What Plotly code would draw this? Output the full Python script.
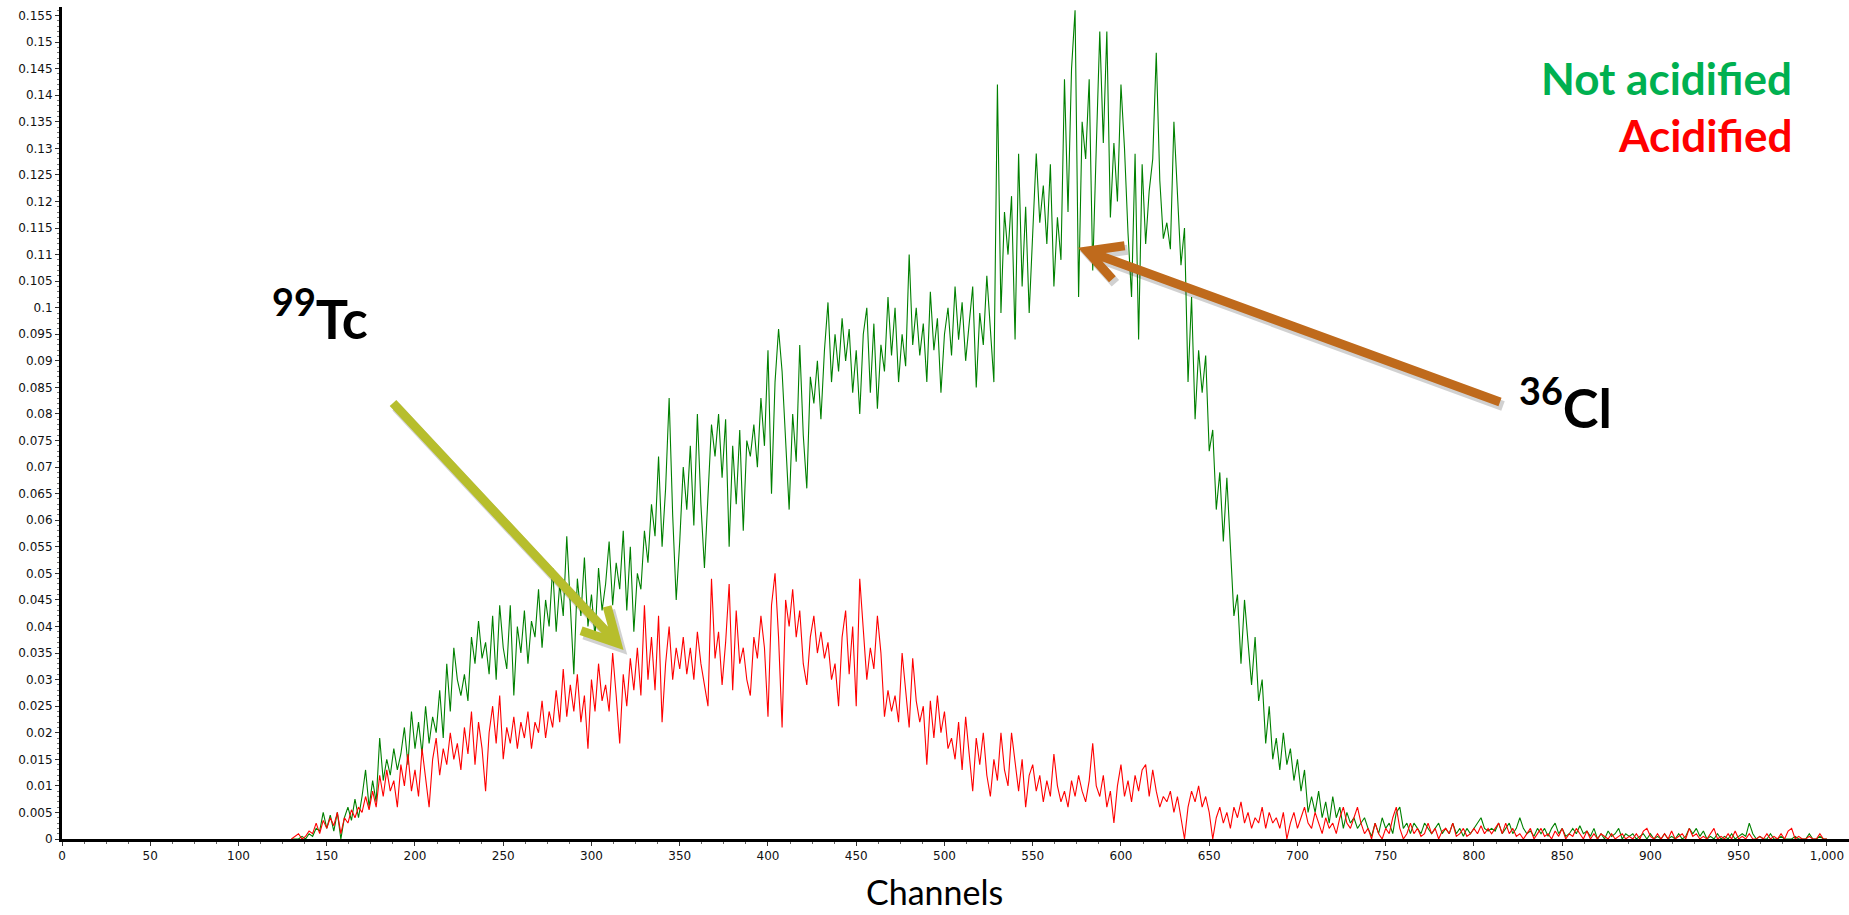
import plotly.graph_objects as go
import math

# ---------------- data (values in units of 0.001) ----------------
start_channel = 130
channel_step = 2

not_acidified_milli = [
    0, 0, 0, 0.5, 0, 1, 0.5, 2, 1.5, 5,
    2, 4.5, 1.5, 5, 0, 4, 6, 3.5, 7.5, 4,
    8, 13, 6, 11, 7, 19, 11, 15, 12, 17,
    13, 16, 21, 14, 24, 17, 22, 16, 25, 18,
    23, 20, 28, 19, 33, 24, 36, 30, 27, 31,
    26, 38, 33, 41, 34, 37, 31, 42, 30, 44,
    36, 32, 44, 27, 40, 35, 43, 33, 41, 38,
    47, 36, 45, 40, 51, 39, 48, 42, 57, 44,
    31, 49, 42, 53, 40, 46, 38, 51, 43, 48,
    56, 44, 52, 47, 58, 43, 55, 39, 50, 47,
    58, 52, 63, 57, 72, 55, 66, 83, 61, 45,
    56, 70, 62, 74, 59, 80, 63, 51, 66, 78,
    72, 80, 68, 79, 55, 74, 63, 77, 58, 75,
    72, 78, 70, 83, 74, 92, 65, 86, 96, 88,
    75, 62, 80, 71, 93, 76, 66, 87, 82, 90,
    79, 92, 101, 86, 95, 88, 98, 90, 96, 84,
    92, 80, 95, 100, 84, 97, 81, 93, 88, 102,
    91, 100, 86, 95, 89, 110, 93, 100, 91, 97,
    86, 103, 92, 98, 84, 95, 100, 91, 104, 94,
    101, 90, 97, 104, 85, 99, 93, 106, 96, 86,
    142, 99, 118, 110, 121, 94, 129, 104, 119, 99,
    114, 129, 116, 123, 112, 127, 104, 117, 109, 143,
    118, 145, 156, 102, 135, 128, 143, 107, 130, 152,
    131, 152, 117, 131, 120, 142, 130, 114, 102, 129,
    94, 127, 112, 122, 128, 148, 124, 113, 116, 111,
    135, 121, 108, 115, 86, 102, 79, 92, 84, 91,
    73, 77, 62, 69, 56, 68, 54, 42, 46, 33,
    45, 37, 29, 38, 26, 30, 18, 25, 15, 19,
    13, 20, 14, 17, 11, 15, 9, 13, 5, 8,
    5, 9, 4, 7, 3, 8, 4, 6, 2, 5,
    3, 4, 2, 3, 4, 2, 0.5, 3, 1, 4,
    2, 3, 1, 5, 6, 2, 3, 1, 3, 2,
    1, 3, 2, 1, 2, 3, 1, 2, 1, 3,
    1, 2, 0.5, 2, 1, 2, 3, 4, 2, 1.5,
    2, 1.5, 3, 1, 2, 3, 1, 2, 4, 2,
    1, 1.5, 0.5, 2, 1, 2, 0.5, 2, 3, 1,
    2, 0.5, 1, 2, 1, 2.5, 1, 1.5, 0.5, 2,
    0, 1, 0, 1.5, 0.5, 1, 2, 0, 1, 0.5,
    1, 0, 0.5, 1, 0, 1, 0, 0.5, 0, 1,
    0, 0.5, 0, 1, 0, 0.5, 2, 1, 2, 0.5,
    1.5, 0, 0.5, 0, 1, 0, 0.5, 0, 1, 0,
    0.5, 1, 0.5, 3, 1, 0, 0.5, 0, 0, 1,
    0, 0, 0.5, 0, 0, 0, 0.5, 0, 0, 0,
    1, 0, 0, 0.5, 0,
    0,
]

acidified_milli = [
    0, 0.5, 1, 0, 0.5, 1.5, 1, 3, 1, 3.5,
    2, 4, 2.5, 5, 1, 4, 3, 5.5, 4, 6,
    5, 8, 5.5, 9, 6, 12, 8, 13, 9, 11,
    6, 14, 10, 16, 9, 13, 8, 17, 11, 6,
    15, 19, 12, 17, 14, 20, 15, 18, 13, 21,
    16, 24, 14, 22, 17, 9, 20, 25, 18, 27,
    15, 21, 18, 23, 17, 22, 19, 24, 17, 22,
    20, 26, 19, 24, 21, 28, 22, 32, 23, 29,
    24, 31, 22, 27, 17, 30, 24, 33, 26, 29,
    24, 35, 27, 18, 31, 25, 34, 28, 36, 27,
    44, 30, 38, 28, 42, 22, 33, 40, 30, 36,
    32, 38, 31, 36, 30, 39, 33, 29, 25, 49,
    34, 39, 29, 37, 48, 28, 43, 33, 36, 30,
    27, 38, 34, 42, 36, 23, 44, 50, 38, 21,
    45, 40, 47, 38, 43, 33, 29, 38, 42, 35,
    39, 34, 37, 30, 33, 25, 38, 43, 31, 40,
    25, 49, 40, 30, 36, 32, 42, 35, 23, 28,
    24, 27, 22, 35, 28, 21, 34, 26, 22, 25,
    14, 26, 19, 27, 20, 24, 17, 19, 15, 22,
    13, 23, 16, 9, 19, 14, 20, 12, 8, 15,
    11, 20, 13, 10, 20, 14, 9, 15, 6, 12,
    14, 9, 12, 7, 11, 8, 16, 10, 7, 9,
    6, 11, 8, 12, 9, 7, 11, 18, 10, 8,
    12, 6, 9, 3, 10, 14, 8, 11, 7, 12,
    9, 13, 14, 8, 13, 9, 6, 8, 7, 9,
    5, 8, 4, 0, 6, 9, 7, 10, 6, 8,
    5, 0, 4, 6, 3, 5, 2, 6, 4, 7,
    3, 5, 2, 4, 3, 6, 2, 5, 3, 4,
    2, 5, 0, 3, 5, 2, 4, 6, 3, 2,
    5, 3, 1, 4, 2, 3, 1, 4, 6, 3,
    2, 4, 6, 3, 1, 2, 0, 3, 1, 0,
    2, 1, 4, 6, 2, 0, 1, 3, 1, 2,
    0.5, 1, 3, 1, 2, 0, 1.5, 2, 1, 3,
    0.5, 1, 2, 0.5, 1, 2, 1, 2.5, 1, 2,
    1, 2, 3, 1, 3, 1, 2, 0.5, 1, 0,
    1, 2, 0, 1, 2, 0.5, 1, 0, 1.5, 0.5,
    2, 0, 1, 0.5, 2, 1, 0, 1.5, 0, 1,
    0, 1, 0.5, 0, 1, 0, 0.5, 1, 0, 0.5,
    0, 1, 0, 1.5, 2, 0.5, 0, 1, 0, 1,
    0, 1.5, 0, 0.5, 1, 0, 2, 0.5, 1, 0,
    0.5, 0, 1, 2, 0, 0.5, 0, 1, 0, 1.5,
    0, 0.5, 0, 1, 0, 0, 0.5, 0, 1, 0,
    0.5, 0, 1, 0, 1.5, 2, 0, 0.5, 0, 0,
    0.5, 0, 0, 1, 0,
    0,
]

x_tick_values = list(range(0, 1001, 50))
x_tick_labels = [f"{v:,}" for v in x_tick_values]

# ---------------- figure ----------------
W_FIG, H_FIG = 1849, 915
L, R, T, B = 62, 0, 7, 76
PW, PH = W_FIG - L - R, H_FIG - T - B


def px(x):
    return (x - L) / PW


def py(y):
    return (T + PH - y) / PH


def channels_for(vals):
    return [start_channel + channel_step * i for i in range(len(vals))]


fig = go.Figure()
fig.add_trace(go.Scatter(
    x=channels_for(not_acidified_milli),
    y=[v / 1000 for v in not_acidified_milli],
    mode="lines", line=dict(color="#008000", width=1.1),
    name="Not acidified", hoverinfo="skip"))
fig.add_trace(go.Scatter(
    x=channels_for(acidified_milli),
    y=[v / 1000 for v in acidified_milli],
    mode="lines", line=dict(color="#FF0000", width=1.1),
    name="Acidified", hoverinfo="skip"))

tick_font = dict(family="DejaVu Sans", size=12, color="#111")
fig.update_xaxes(
    range=[0, 1012.5], showline=True, linewidth=3, linecolor="black",
    ticks="outside", ticklen=4, tickwidth=1, tickcolor="#333",
    tickvals=x_tick_values, ticktext=x_tick_labels, tickfont=tick_font,
    showgrid=False, zeroline=False,
    minor=dict(dtick=12.5, ticks="outside", ticklen=2, tickcolor="#666", showgrid=False),
)
fig.update_yaxes(
    range=[0, 0.1566], showline=True, linewidth=3, linecolor="black",
    ticks="outside", ticklen=4, tickwidth=1, tickcolor="#333",
    dtick=0.005, tick0=0, tickfont=tick_font,
    showgrid=False, zeroline=False,
    minor=dict(dtick=0.001, ticks="outside", ticklen=2, tickcolor="#777", showgrid=False),
)

ann_font = "Lato"
annotations = [
    dict(x=px(1794), y=py(93 - 15), text="<b>Not acidified</b>", xanchor="right", yanchor="middle",
         font=dict(family=ann_font, size=44, color="#00B050")),
    dict(x=px(1794), y=py(150 - 15), text="<b>Acidified</b>", xanchor="right", yanchor="middle",
         font=dict(family=ann_font, size=44, color="#FF0000")),
    dict(x=px(270), y=py(333 - 18), text="<b><sup>99</sup>Tc</b>", xanchor="left", yanchor="middle",
         font=dict(family=ann_font, size=54, color="black")),
    dict(x=px(1517), y=py(422 - 18), text="<b><sup>36</sup>Cl</b>", xanchor="left", yanchor="middle",
         font=dict(family=ann_font, size=54, color="black")),
    dict(x=px(934), y=py(914), text="Channels", xanchor="center", yanchor="bottom",
         font=dict(family=ann_font, size=34, color="black")),
]
for a in annotations:
    a.update(xref="paper", yref="paper", showarrow=False)


def arrow_path(tail, tip, wing_len=38, wing_deg=28, dx=0, dy=0):
    bx, by = tail[0] - tip[0], tail[1] - tip[1]
    ang = math.atan2(by, bx)
    pts = []
    for s in (-1, 1):
        a = ang + s * math.radians(wing_deg)
        pts.append((tip[0] + wing_len * math.cos(a), tip[1] + wing_len * math.sin(a)))

    def P(p):
        return f"{px(p[0] + dx):.5f},{py(p[1] + dy):.5f}"
    return (f"M {P(tail)} L {P(tip)} "
            f"M {P(pts[0])} L {P(tip)} L {P(pts[1])}")


shapes = []
arrows = [
    ((393, 403), (617, 643), "#B7BE2C"),
    ((1500, 402), (1087, 251), "#BF6A1C"),
]
for tail, tip, col in arrows:
    shapes.append(dict(type="path", path=arrow_path(tail, tip, dx=3, dy=4), xref="paper", yref="paper",
                       line=dict(color="rgba(0,0,0,0.18)", width=10), layer="above"))
    shapes.append(dict(type="path", path=arrow_path(tail, tip), xref="paper", yref="paper",
                       line=dict(color=col, width=9), layer="above"))

fig.update_layout(
    width=W_FIG, height=H_FIG,
    margin=dict(l=L, r=R, t=T, b=B, pad=0),
    paper_bgcolor="white", plot_bgcolor="white",
    showlegend=False,
    annotations=annotations,
    shapes=shapes,
)

fig.write_html("out.html", config={"displayModeBar": False})
